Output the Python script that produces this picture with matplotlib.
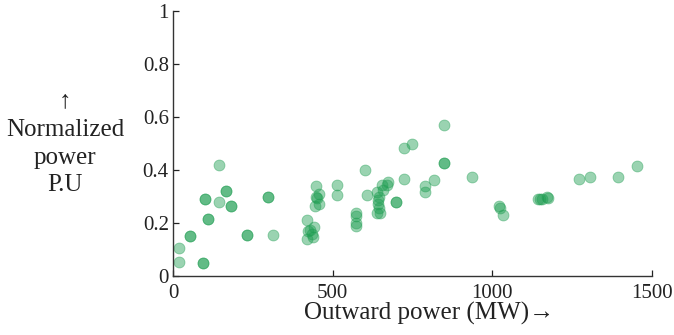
import matplotlib
matplotlib.use("Agg")
import matplotlib.pyplot as plt
import numpy as np

# outward power (MW) and normalized power (P.U); repeated entries sit on top of each other
power_mw = [19, 19, 52, 52, 95, 95, 100, 100, 111, 111, 145, 145, 166, 166,
            182, 182, 231, 231, 298, 298, 312,
            419, 419, 424, 430, 434, 437, 440, 447, 447, 452, 458, 445, 458,
            512, 512, 573, 573, 573, 573, 601, 609, 638, 643, 645, 643, 645,
            638, 648, 653, 659, 669, 674, 698, 698,
            723, 747, 723, 789, 789, 817, 850, 850, 850, 935,
            1022, 1024, 1032, 1144, 1150, 1156, 1170, 1175,
            1271, 1306, 1395, 1452]
norm_pu = [0.107, 0.052, 0.152, 0.152, 0.048, 0.048, 0.29, 0.29, 0.215, 0.215,
           0.42, 0.28, 0.32, 0.32, 0.263, 0.263, 0.155, 0.155, 0.30, 0.30, 0.155,
           0.211, 0.138, 0.17, 0.175, 0.16, 0.148, 0.186, 0.34, 0.30, 0.295, 0.308,
           0.264, 0.272,
           0.343, 0.306, 0.237, 0.226, 0.20, 0.19, 0.40, 0.306, 0.318, 0.287,
           0.30, 0.27, 0.255, 0.237, 0.237, 0.343, 0.325, 0.343, 0.356, 0.28, 0.28,
           0.484, 0.50, 0.365, 0.34, 0.318, 0.362, 0.57, 0.428, 0.428, 0.375,
           0.264, 0.255, 0.23, 0.29, 0.29, 0.29, 0.30, 0.296,
           0.365, 0.375, 0.375, 0.416]

x_ticks = [0, 500, 1000, 1500]
y_ticks = [0, 0.2, 0.4, 0.6, 0.8, 1]
y_tick_labels = ["0", "0.2", "0.4", "0.6", "0.8", "1"]

plt.rcParams['font.family'] = ['Liberation Serif', 'DejaVu Serif']

fig = plt.figure(figsize=(6.74, 3.35), dpi=100)
ax = fig.add_axes([0.2567, 0.176, 0.7107, 0.791])

ax.scatter(power_mw, norm_pu, s=62, color='#1f9e52', alpha=0.45,
           edgecolors='#1f9e52', linewidths=0.6)

ax.set_xlim(0, 1500)
ax.set_ylim(0, 1)
ax.set_xticks(x_ticks)
ax.set_yticks(y_ticks)
ax.set_yticklabels(y_tick_labels)
ax.tick_params(direction='in', length=4, width=0.9, labelsize=15, colors='#222222', pad=3)
ax.tick_params(axis='x', pad=6)

for side in ['top', 'right']:
    ax.spines[side].set_visible(False)
for side in ['left', 'bottom']:
    ax.spines[side].set_color('#333333')
    ax.spines[side].set_linewidth(1.0)

ax.set_xlabel("Outward power (MW)\u2192", fontsize=18, color='#222222')
ax.xaxis.set_label_coords(0.534, -0.14)
ax.xaxis.label.set_va('center')
ax.set_ylabel("\u2191\nNormalized\npower\nP.U", fontsize=18, rotation=0,
              ha='center', va='center', color='#222222', linespacing=1.35)
ax.yaxis.set_label_coords(-0.225, 0.5)

fig.savefig("out.png", dpi=100)
